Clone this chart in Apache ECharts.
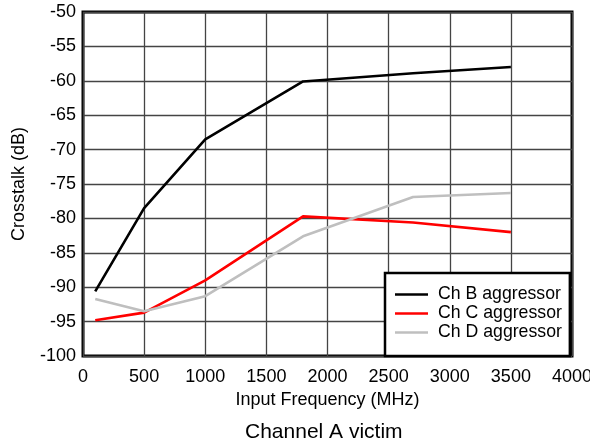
<!DOCTYPE html>
<html>
<head>
<meta charset="utf-8">
<script src="https://cdn.jsdelivr.net/npm/echarts@6/dist/echarts.min.js"></script>
<style>html,body{margin:0;padding:0;background:#fff}#c{width:590px;height:444px}</style>
</head>
<body>
<div id="c"></div>
<script>
const freqs = [100, 500, 1000, 1800, 2700, 3500];
const chB = [-90.6, -78.5, -68.5, -60.1, -58.9, -58.0];
const chC = [-94.8, -93.7, -89.0, -79.7, -80.6, -82.0];
const chD = [-91.7, -93.5, -91.3, -82.6, -76.9, -76.3];
const seriesNames = ['Ch B aggressor', 'Ch C aggressor', 'Ch D aggressor'];
const seriesColors = ['#000000', '#ff0000', '#bfbfbf'];
const xTicks = [0, 500, 1000, 1500, 2000, 2500, 3000, 3500, 4000];
const yTicks = [-100, -95, -90, -85, -80, -75, -70, -65, -60, -55, -50];

const font = 'Liberation Sans, Arial, sans-serif';
const allData = [chB, chC, chD];
const chart = echarts.init(document.getElementById('c'), null, {renderer: 'canvas'});
chart.setOption({
  animation: false,
  backgroundColor: '#fff',
  title: {
    text: 'Channel A victim',
    left: 245, top: 422,
    padding: 0,
    textStyle: {fontFamily: font, fontSize: 21, fontWeight: 'normal', color: '#000'}
  },
  grid: {
    left: 83, right: 18, top: 12, bottom: 88,
    outerBoundsMode: 'none', containLabel: false,
    show: true, borderColor: '#000', borderWidth: 3, backgroundColor: 'transparent'
  },
  legend: {
    orient: 'vertical',
    left: 385, top: 273,
    data: seriesNames,
    icon: 'rect', itemWidth: 33, itemHeight: 2.5, itemGap: 0,
    padding: [12, 8, 14, 10],
    borderColor: '#000', borderWidth: 2.5, backgroundColor: '#fff',
    textStyle: {fontFamily: font, fontSize: 17.7, color: '#000', lineHeight: 19, padding: [0, 0, 0, 5]}
  },
  xAxis: {
    type: 'value', min: xTicks[0], max: xTicks[xTicks.length - 1], interval: 500,
    name: 'Input Frequency (MHz)', nameLocation: 'middle', nameGap: 19,
    nameTextStyle: {fontFamily: font, fontSize: 18, color: '#000'},
    axisLine: {show: false}, axisTick: {show: false},
    axisLabel: {fontFamily: font, fontSize: 18, color: '#000', margin: 12, formatter: v => String(v)},
    splitLine: {show: true, lineStyle: {color: '#444', width: 1.3}}
  },
  yAxis: {
    type: 'value', min: yTicks[0], max: yTicks[yTicks.length - 1], interval: 5,
    name: 'Crosstalk (dB)', nameLocation: 'middle', nameGap: 55,
    nameTextStyle: {fontFamily: font, fontSize: 18, color: '#000'},
    axisLine: {show: false}, axisTick: {show: false},
    axisLabel: {fontFamily: font, fontSize: 18, color: '#000', margin: 7, formatter: v => String(v)},
    splitLine: {show: true, lineStyle: {color: '#444', width: 1.3}}
  },
  series: seriesNames.map((n, i) => ({
    name: n, type: 'line', symbol: 'none',
    data: freqs.map((f, j) => [f, allData[i][j]]),
    lineStyle: {color: seriesColors[i], width: 2.6},
    itemStyle: {color: seriesColors[i]}
  }))
});
</script>
</body>
</html>
